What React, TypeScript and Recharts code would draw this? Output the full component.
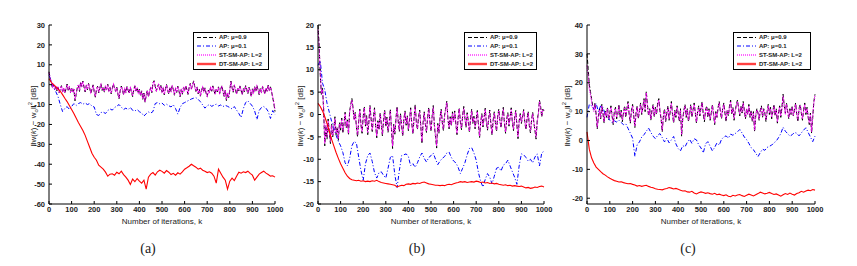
import React from 'react';
import { LineChart, Line, XAxis, YAxis } from 'recharts';

// AP(0.9) and ST-SM-AP are read every 5 iterations, AP(0.1) and DT-SM-AP every 10
const FINE_STEP = 5;
const COARSE_STEP = 10;
const X_TICKS = [0, 100, 200, 300, 400, 500, 600, 700, 800, 900, 1000];

const SANS = '"Liberation Sans", Arial, sans-serif';
const SERIF = '"Liberation Serif", "Times New Roman", serif';

// ---------- panel (a) ----------
const A_AP09 = [
  6.5, 3.2, 1.0, -1.5, 0.2, -2.4, -0.8, -3.1, -1.2, -4.0,
  -2.1, -0.5, -3.6, -1.9, -4.4, -2.0, 0.3, -2.8, -1.0, -3.9,
  -1.5, -4.2, -2.3, -8.1, -5.0, -1.6, -0.2, -3.4, 1.4, -0.9,
  1.8, -1.3, -3.7, -0.4, -2.6, 0.6, -1.8, -4.3, -2.2, -0.1,
  -3.5, -6.3, -2.4, -0.8, -4.1, -1.7, 0.4, -2.9, -1.1, -3.8,
  -0.6, -2.5, 0.2, -3.3, -1.4, -4.6, -2.0, 0.5, -1.9, -3.4,
  -1.2, -4.8, -7.1, -3.0, -0.7, -2.6, -5.2, -1.8, -3.9, -0.9,
  -2.7, -4.5, -1.3, -3.6, -6.0, -2.4, -0.6, -3.2, -1.5, -4.4,
  -2.2, -5.6, -3.1, -7.4, -4.2, -8.9, -5.5, -2.8, -6.2, -3.5,
  -1.4, -4.0, 0.8, 2.0, -0.9, -3.3, -1.1, 0.3, -2.6, -0.4,
  -3.8, -1.6, -5.1, -2.3, 0.1, -2.9, -4.7, -1.2, -3.5, -0.5,
  -2.4, -5.3, -1.7, -3.9, -0.8, -3.0, -6.1, -2.5, -4.8, -1.4,
  -3.2, -0.3, -2.7, -4.9, -1.5, 0.6, -2.1, -0.2, 1.9, -1.0,
  -3.4, -1.3, -4.6, -2.2, -5.8, -3.1, -0.9, -3.7, -1.6, -4.3,
  -6.0, -2.8, -4.1, -1.2, -3.3, -0.6, -2.9, -5.0, -2.0, -3.6,
  -1.1, -4.5, -2.3, -0.4, -3.7, -5.9, -2.6, -8.0, -4.4, -6.5,
  -2.7, 1.8, -1.4, -3.8, -0.3, -2.5, -4.9, -1.6, -3.2, -0.7,
  -2.8, -5.2, -1.9, -3.5, -0.5, -2.4, -4.6, -1.3, -3.0, -6.2,
  -2.1, -4.3, -1.0, -3.6, -0.4, -2.7, -5.1, -1.8, -3.9, -0.9,
  -2.6, -4.8, -1.5, -3.3, -0.2, -2.9, -1.1, -3.7, -6.5, -9.5,
  -13.5,
];
const A_STSM = [
  6.0, 3.5, 1.4, -1.0, 0.5, -2.0, -1.1, -2.8, -0.9, -3.6,
  -2.4, -0.8, -3.2, -1.6, -4.0, -2.3, 0.0, -2.5, -1.3, -3.5,
  -1.8, -3.9, -2.0, -7.6, -4.6, -1.9, 0.1, -3.0, 1.1, -0.6,
  1.5, -1.0, -3.4, -0.7, -2.3, 0.3, -1.5, -4.0, -2.5, -0.4,
  -3.2, -5.9, -2.7, -1.1, -3.8, -1.4, 0.1, -2.6, -1.4, -3.5,
  -0.9, -2.2, -0.1, -3.0, -1.7, -4.3, -2.3, 0.2, -1.6, -3.1,
  -1.5, -4.5, -6.7, -3.3, -1.0, -2.3, -4.9, -2.1, -3.6, -1.2,
  -2.4, -4.2, -1.6, -3.3, -5.6, -2.7, -0.9, -2.9, -1.8, -4.1,
  -2.5, -5.3, -3.4, -7.0, -4.5, -8.5, -5.2, -3.1, -5.9, -3.2,
  -1.7, -3.7, 0.5, 1.7, -1.2, -3.0, -1.4, 0.0, -2.3, -0.7,
  -3.5, -1.9, -4.8, -2.6, -0.2, -2.6, -4.4, -1.5, -3.2, -0.8,
  -2.1, -5.0, -2.0, -3.6, -1.1, -2.7, -5.8, -2.8, -4.5, -1.7,
  -2.9, -0.6, -2.4, -4.6, -1.8, 0.3, -2.4, -0.5, 1.6, -1.3,
  -3.1, -1.6, -4.3, -2.5, -5.5, -2.8, -1.2, -3.4, -1.9, -4.0,
  -5.7, -3.1, -3.8, -1.5, -3.0, -0.9, -2.6, -4.7, -2.3, -3.3,
  -1.4, -4.2, -2.6, -0.7, -3.4, -5.6, -2.9, -7.6, -4.1, -6.2,
  -3.0, 1.5, -1.7, -3.5, -0.6, -2.2, -4.6, -1.9, -2.9, -1.0,
  -2.5, -4.9, -2.2, -3.2, -0.8, -2.1, -4.3, -1.6, -2.7, -5.9,
  -2.4, -4.0, -1.3, -3.3, -0.7, -2.4, -4.8, -2.1, -3.6, -1.2,
  -2.3, -4.5, -1.8, -3.0, -0.5, -2.6, -1.4, -3.4, -6.2, -9.0,
  -12.5,
];
const A_AP01 = [
  5.0, 1.5, -1.5, -3.5, -6.0, -10.0, -13.5, -12.0, -11.0, -12.5,
  -11.0, -9.5, -10.5, -9.5, -9.0, -9.8, -9.2, -10.0, -9.5, -10.8,
  -11.2, -15.0, -15.5, -14.0, -13.8, -14.5, -13.0, -12.2, -12.8, -11.5,
  -10.8, -10.0, -11.3, -12.5, -11.8, -12.6, -11.4, -12.9, -13.2, -12.5,
  -13.6, -14.2, -15.8, -14.6, -13.7, -14.3, -13.5, -9.5, -9.0, -9.6,
  -9.2, -10.4, -9.8, -10.6, -11.2, -10.1, -12.0, -14.8, -11.5, -9.6,
  -9.0, -8.4, -7.8, -7.2, -6.8, -6.5, -7.4, -8.6, -10.2, -11.8,
  -10.6, -10.0, -10.9, -10.3, -9.8, -10.7, -10.2, -11.0, -10.4, -10.9,
  -11.5, -12.2, -11.0, -12.8, -14.5, -16.5, -12.0, -9.0, -8.2, -9.4,
  -10.8, -13.2, -17.5, -13.0, -11.5, -11.0, -11.8, -13.5, -17.0, -13.0,
  -15.0,
];
const A_DTSM = [
  3.0, 1.2, 0.0, -1.0, -2.2, -3.3, -5.0, -6.8, -8.5, -10.5,
  -12.5, -14.5, -16.8, -19.0, -21.0, -23.0, -25.5, -28.5, -31.5, -34.5,
  -36.5, -38.0, -40.5, -41.5, -42.5, -44.0, -46.0, -45.0, -44.8, -45.5,
  -44.0, -44.8, -43.5, -45.2, -46.5, -48.0, -50.2, -47.5, -48.8, -47.2,
  -48.5, -49.5, -48.0, -52.5, -46.5, -45.0, -44.2, -45.5, -43.8, -43.0,
  -43.6, -44.5, -43.2, -44.0, -45.2, -44.6, -45.5, -44.3, -45.0, -43.8,
  -42.5, -41.8, -41.0, -40.0, -40.8, -41.5, -42.5, -42.0, -43.0, -43.5,
  -44.2, -43.8, -44.5, -46.0, -49.5, -42.5, -44.5, -46.5, -48.0, -52.5,
  -48.5, -47.0, -48.2, -46.0, -44.0, -44.5, -43.8, -44.2, -43.5, -44.6,
  -45.5, -48.0, -46.5, -45.0, -44.2, -43.5, -44.5, -45.2, -46.0, -45.8,
  -46.5,
];

// ---------- panel (b) ----------
const B_AP09 = [
  20.0, 15.5, 9.0, 4.5, 6.0, 1.0, -7.0, -2.5, -5.5, -1.0,
  -4.0, -6.5, -2.0, -5.0, -3.2, -0.5, -4.5, -2.8, -5.8, -1.8,
  -3.5, -0.8, -4.2, -2.0, 0.5, -3.0, -1.2, -4.6, 0.8, 2.2,
  3.6, 1.5, -1.0, 0.5, -2.8, -5.0, -1.5, 1.2, -2.2, -4.2,
  -0.5, 1.8, -2.6, -0.2, -4.5, -1.8, 2.0, -1.0, -3.8, -0.8,
  1.5, -2.5, -5.2, -1.4, -3.5, 0.4, -2.0, -4.8, -1.2, 1.0,
  -2.8, -0.6, -4.0, -1.8, 1.2, -3.2, -7.6, -2.2, -4.4, -0.9,
  1.8, -1.5, -3.8, 0.2, -2.6, -4.9, -1.0, 0.8, -2.4, -0.3,
  -3.6, -1.2, 1.5, -2.0, -4.4, -0.8, 2.2, -1.6, -3.4, -0.5,
  1.0, -2.8, -6.5, -1.8, 0.6, -2.2, -4.0, -0.7, 1.6, -1.5,
  -3.8, -0.4, 2.0, -2.5, -5.0, -7.5, -2.0, -4.2, -0.6, 1.2,
  -1.8, -3.6, -0.2, 1.4, 3.0, -1.0, -3.2, -0.5, -2.6, 0.6,
  -1.4, 0.8, -2.2, -4.5, -0.8, 1.5, -1.6, -3.4, -0.2, 1.8,
  -0.8, -2.9, 0.4, -1.5, -4.0, -1.0, 1.2, -2.0, -0.4, -3.2,
  -1.1, 0.9, -2.4, -5.2, -1.6, 0.2, -2.8, -0.6, 1.4, -1.8,
  -3.5, -0.9, 1.0, -2.2, -4.6, -1.3, 0.6, -1.9, -3.8, -0.4,
  1.2, -1.4, -3.0, -0.2, 1.6, -2.1, -4.2, -1.0, 0.4, -2.6,
  -0.6, 1.5, -1.8, -3.6, -0.8, 0.9, -2.3, -5.4, -1.5, 0.2,
  -2.0, -0.4, 1.1, -1.7, -3.4, -0.9, 0.7, -2.5, -4.1, -1.2,
  0.5, -1.8, -3.6, -5.5, -1.4, 0.3, 3.2, 1.8, -0.6, 1.2,
  0.8,
];
const B_STSM = [
  19.0, 15.0, 9.5, 5.0, 5.5, 1.5, -6.5, -2.0, -5.0, -1.4,
  -3.6, -6.0, -2.4, -4.6, -3.5, -0.9, -4.1, -3.1, -5.4, -2.1,
  -3.1, -1.1, -3.8, -2.3, 0.2, -2.7, -1.5, -4.2, 0.5, 1.9,
  3.2, 1.2, -1.3, 0.2, -2.5, -4.6, -1.8, 0.9, -2.5, -3.9,
  -0.8, 1.5, -2.3, -0.5, -4.1, -2.1, 1.7, -1.3, -3.5, -1.1,
  1.2, -2.2, -4.8, -1.7, -3.2, 0.1, -2.3, -4.4, -1.5, 0.7,
  -2.5, -0.9, -3.7, -2.1, 0.9, -2.9, -7.1, -2.5, -4.1, -1.2,
  1.5, -1.8, -3.5, -0.1, -2.3, -4.5, -1.3, 0.5, -2.1, -0.6,
  -3.3, -1.5, 1.2, -2.3, -4.1, -1.1, 1.9, -1.9, -3.1, -0.8,
  0.7, -2.5, -6.0, -2.1, 0.3, -1.9, -3.7, -1.0, 1.3, -1.8,
  -3.5, -0.7, 1.7, -2.2, -4.6, -7.0, -2.3, -3.9, -0.9, 0.9,
  -2.1, -3.3, -0.5, 1.1, 2.7, -1.3, -2.9, -0.8, -2.3, 0.3,
  -1.7, 0.5, -1.9, -4.2, -1.1, 1.2, -1.9, -3.1, -0.5, 1.5,
  -1.1, -2.6, 0.1, -1.8, -3.7, -1.3, 0.9, -1.7, -0.7, -2.9,
  -1.4, 0.6, -2.1, -4.8, -1.9, -0.1, -2.5, -0.9, 1.1, -1.5,
  -3.2, -1.2, 0.7, -1.9, -4.3, -1.6, 0.3, -1.6, -3.5, -0.7,
  0.9, -1.7, -2.7, -0.5, 1.3, -1.8, -3.9, -1.3, 0.1, -2.3,
  -0.9, 1.2, -1.5, -3.3, -1.1, 0.6, -2.0, -5.0, -1.8, -0.1,
  -1.7, -0.7, 0.8, -1.4, -3.1, -1.2, 0.4, -2.2, -3.8, -1.5,
  0.2, -1.5, -3.3, -5.1, -1.7, 0.0, 2.9, 1.5, -0.3, 0.9,
  1.1,
];
const B_AP01 = [
  11.0, 12.0, 7.0, 5.5, 2.5, 0.5, -1.5, -3.0, -4.6, -6.0,
  -7.0, -8.5, -10.8, -11.5, -9.8, -7.0, -6.0, -6.4, -9.5, -12.5,
  -14.7, -11.0, -9.2, -8.6, -10.5, -13.0, -14.2, -13.0, -12.8, -13.6,
  -14.2, -12.0, -9.6, -9.2, -13.5, -16.3, -12.5, -9.2, -9.0, -8.8,
  -9.4, -11.5, -11.0, -11.8, -10.8, -9.5, -8.6, -9.8, -10.6, -9.6,
  -9.2, -8.6, -10.0, -11.2, -10.4, -9.8, -9.4, -8.6, -8.4, -9.6,
  -10.4, -10.8, -11.8, -13.2, -12.0, -10.8, -9.0, -7.6, -7.4, -8.6,
  -10.2, -13.0, -15.0, -16.2, -14.5, -13.2, -14.0, -15.5, -13.8, -12.0,
  -11.8, -12.6, -11.3, -11.0, -10.2, -11.5, -12.8, -14.0, -15.6, -11.5,
  -8.8, -9.0, -9.6, -10.4, -10.0, -10.8, -9.5, -8.8, -11.5, -8.6,
  -8.2,
];
const B_DTSM = [
  2.5, 1.8, 0.8, -0.5, -2.0, -3.8, -5.5, -7.0, -8.5, -9.8,
  -11.0, -12.0, -13.0, -13.8, -14.3, -14.6, -14.7, -14.8, -14.7, -14.9,
  -14.8, -15.0, -14.9, -15.0, -14.8, -14.9, -14.7, -15.0, -15.2, -15.3,
  -15.4, -15.5, -15.6, -15.7, -15.8, -16.2, -16.0, -15.8, -15.9, -15.6,
  -15.5, -15.6, -15.4, -15.5, -15.3, -15.4, -15.2, -15.1, -15.3, -15.5,
  -15.6, -15.7, -15.8, -15.8, -15.9, -15.8, -15.9, -15.7, -15.6, -15.7,
  -15.5, -15.3, -15.2, -15.0, -15.1, -15.0, -15.2, -15.1, -15.0, -15.1,
  -14.9, -15.0, -15.2, -15.1, -15.3, -15.2, -15.4, -15.3, -15.5, -15.4,
  -15.6, -15.7, -15.8, -15.7, -15.9, -15.8, -16.0, -15.9, -16.0, -16.1,
  -16.0, -16.2, -16.4, -16.3, -16.5, -16.4, -16.2, -16.3, -16.1, -16.0,
  -16.2,
];

// ---------- panel (c) ----------
const C_AP09 = [
  30.0, 25.0, 19.5, 17.0, 14.5, 12.0, 10.5, 13.0, 9.0, 4.0,
  8.5, 11.0, 7.5, 12.5, 9.5, 6.0, 10.5, 8.0, 11.5, 7.0,
  9.5, 12.0, 8.5, 5.5, 10.0, 11.5, 7.5, 9.0, 12.5, 8.0,
  10.5, 6.5, 9.5, 12.0, 8.0, 11.0, 13.5, 9.0, 6.0, 10.5,
  12.5, 8.5, 4.5, 9.5, 12.0, 7.5, 10.0, 13.0, 9.0, 11.5,
  14.5, 10.0, 17.0, 12.5, 8.5, 11.0, 7.0, 10.5, 12.5, 8.0,
  11.5, 9.0, 13.0, 14.5, 10.0, 7.5, 3.0, 8.5, 11.0, 6.5,
  9.5, 12.0, 7.0, 10.0, 13.5, 9.0, 6.0, 10.5, 8.0, 12.0,
  9.5, 6.5, 11.0, 1.5, 7.5, 10.5, 12.5, 8.0, 11.0, 6.5,
  9.0, 12.5, 8.0, 10.5, 13.0, 9.5, 6.0, 10.0, 12.0, 8.5,
  11.5, 13.5, 9.0, 6.5, 10.5, 12.0, 8.0, 11.0, 7.0, 9.5,
  12.5, 9.0, 5.5, 10.0, 8.0, 11.5, 13.5, 10.0, 7.5, 11.0,
  13.0, 9.5, 6.5, 10.5, 8.5, 12.0, 14.0, 9.0, 11.5, 7.0,
  10.0, 12.5, 14.0, 11.0, 8.5, 12.0, 9.5, 13.5, 10.5, 7.5,
  11.0, 9.0, 12.5, 8.0, 10.5, 6.5, 10.0, 3.0, 8.5, 11.0,
  9.5, 7.0, 10.5, 12.0, 8.0, 11.0, 9.5, 6.5, 10.0, 12.5,
  9.0, 11.5, 7.5, 10.0, 12.5, 8.5, 11.0, 6.0, 9.5, 12.0,
  8.0, 11.5, 16.0, 12.0, 9.5, 13.0, 10.0, 7.5, 11.0, 9.0,
  12.0, 8.5, 10.5, 13.0, 9.0, 6.5, 11.0, 12.5, 9.5, 7.0,
  10.5, 13.0, 9.0, 11.5, 8.0, 5.5, 9.5, 2.5, 8.0, 13.5,
  16.0,
];
const C_STSM = [
  26.0, 22.0, 18.0, 16.0, 13.5, 11.5, 10.0, 12.5, 9.5, 4.5,
  8.0, 10.5, 8.0, 12.0, 9.0, 6.5, 10.0, 8.5, 11.0, 7.5,
  9.0, 11.5, 9.0, 6.0, 9.5, 11.0, 8.0, 9.5, 12.0, 8.5,
  10.0, 7.0, 9.0, 11.5, 8.5, 10.5, 13.0, 9.5, 6.5, 10.0,
  12.0, 9.0, 5.0, 9.0, 11.5, 8.0, 10.5, 12.5, 9.5, 11.0,
  14.0, 10.5, 16.5, 12.0, 9.0, 10.5, 7.5, 10.0, 12.0, 8.5,
  11.0, 9.5, 12.5, 14.0, 10.5, 8.0, 3.5, 8.0, 10.5, 7.0,
  9.0, 11.5, 7.5, 10.5, 13.0, 9.5, 6.5, 10.0, 8.5, 11.5,
  10.0, 7.0, 10.5, 2.0, 8.0, 10.0, 12.0, 8.5, 10.5, 7.0,
  9.5, 12.0, 8.5, 10.0, 12.5, 10.0, 6.5, 9.5, 11.5, 9.0,
  11.0, 13.0, 9.5, 7.0, 10.0, 11.5, 8.5, 10.5, 7.5, 9.0,
  12.0, 9.5, 6.0, 9.5, 8.5, 11.0, 13.0, 10.5, 8.0, 10.5,
  12.5, 10.0, 7.0, 10.0, 9.0, 11.5, 13.5, 9.5, 11.0, 7.5,
  10.5, 12.0, 13.5, 11.5, 9.0, 11.5, 10.0, 13.0, 10.0, 8.0,
  10.5, 9.5, 12.0, 8.5, 10.0, 7.0, 9.5, 3.5, 9.0, 10.5,
  10.0, 7.5, 10.0, 11.5, 8.5, 10.5, 10.0, 7.0, 9.5, 12.0,
  9.5, 11.0, 8.0, 9.5, 12.0, 9.0, 10.5, 6.5, 10.0, 11.5,
  8.5, 11.0, 15.5, 12.5, 9.0, 12.5, 10.5, 8.0, 10.5, 9.5,
  11.5, 9.0, 10.0, 12.5, 9.5, 7.0, 10.5, 12.0, 10.0, 7.5,
  10.0, 12.5, 9.5, 11.0, 8.5, 6.0, 9.0, 3.0, 8.5, 13.0,
  15.5,
];
const C_AP01 = [
  8.0, 12.5, 12.0, 11.0, 12.8, 10.0, 12.0, 11.5, 9.0, 8.2,
  7.0, 6.2, 6.8, 6.4, 7.0, 6.2, 5.5, 5.8, 4.2, 2.5,
  0.8, -5.5, -1.5, -0.5, 1.2, 2.0, 3.2, 4.3, 2.8, 1.5,
  0.6, 1.8, 2.4, 1.0, -0.5, 0.8, -0.8, 0.2, 1.4, -1.2,
  -2.8, -3.6, -1.8, -2.2, -0.6, 0.4, -1.0, 0.6, 0.2, -1.5,
  -2.6, -4.3, -1.2, -0.4, -2.0, -3.6, -2.4, -0.8, -1.6, 0.4,
  1.2, 1.6, 0.8, 2.2, 1.8, 2.4, 3.0, 3.8, 2.6, 1.2,
  0.3, -1.0, -2.5, -3.2, -4.4, -5.6, -4.2, -3.0, -3.4, -2.4,
  -2.0, -1.6, -0.8, -0.2, 1.0, 2.4, 4.6, 3.2, 2.4, 1.5,
  2.0, 2.8, 2.5, 1.6, 2.6, 3.6, 4.4, 2.8, 1.2, -0.4,
  1.5,
];
const C_DTSM = [
  3.0, -3.0, -6.0, -7.8, -9.2, -10.0, -10.8, -11.5, -12.0, -12.6,
  -13.1, -13.5, -13.9, -14.1, -14.4, -14.3, -14.6, -14.8, -15.0, -14.9,
  -15.2, -15.4, -15.8, -15.6, -15.9, -15.7, -15.5, -15.9, -16.2, -16.4,
  -16.7, -16.9, -17.0, -17.1, -16.8, -16.6, -16.3, -16.5, -16.8, -16.6,
  -16.9, -17.2, -17.5, -17.4, -17.8, -17.9, -17.6, -18.2, -18.5, -18.1,
  -17.8, -18.0, -18.3, -18.1, -18.4, -18.6, -18.3, -18.8, -18.6, -18.9,
  -19.1, -18.8, -19.3, -19.5, -19.0, -19.2, -18.9, -18.7, -19.1, -19.4,
  -19.0, -18.6, -18.9, -19.2, -18.8, -18.4, -17.9, -18.2, -18.5, -18.3,
  -18.0, -18.4, -18.7, -18.5, -18.9, -19.3, -18.8, -18.4, -18.7, -18.2,
  -18.6, -18.9, -18.4, -18.1, -17.6, -17.9, -17.5, -17.2, -17.4, -17.0,
  -17.2,
];

const A_TICKS = [-60, -50, -40, -30, -20, -10, 0, 10, 20, 30];
const B_TICKS = [-20, -15, -10, -5, 0, 5, 10, 15, 20];
const C_TICKS = [-20, -10, 0, 10, 20, 30, 40];

const LEGEND = [
  { name: 'AP: \u03bc=0.9', color: '#000000', dash: '4 2', width: 1 },
  { name: 'AP: \u03bc=0.1', color: '#0000ff', dash: '4 2 1 2', width: 1 },
  { name: 'ST-SM-AP: L=2', color: '#ff33ff', dash: '1 1', width: 1.6 },
  { name: 'DT-SM-AP: L=2', color: '#ff4040', dash: undefined, width: 2.4 },
];

function buildRows(ap09: number[], stsm: number[], ap01: number[], dtsm: number[]) {
  const ratio = COARSE_STEP / FINE_STEP;
  return ap09.map((v, i) => ({
    k: i * FINE_STEP,
    ap09: v,
    stsm: stsm[i],
    ap01: i % ratio === 0 ? ap01[i / ratio] : null,
    dtsm: i % ratio === 0 ? dtsm[i / ratio] : null,
  }));
}

const tickStyle = { fontSize: 7.5, fontWeight: 700, fill: '#222', fontFamily: SANS };

function Panel({ left, width, margin, rows, domain, ticks }: any) {
  return (
    <div style={{ position: 'absolute', left, top: 0 }}>
      <LineChart width={width} height={266} data={rows} margin={margin}>
        <XAxis
          type="number"
          dataKey="k"
          domain={[0, 1000]}
          ticks={X_TICKS}
          interval={0}
          height={20}
          tickSize={-3}
          tickMargin={6}
          axisLine={{ stroke: '#000' }}
          tickLine={{ stroke: '#000' }}
          tick={tickStyle}
        />
        <YAxis
          type="number"
          domain={domain}
          ticks={ticks}
          interval={0}
          width={30}
          tickSize={-3}
          tickMargin={7}
          allowDataOverflow
          axisLine={{ stroke: '#000' }}
          tickLine={{ stroke: '#000' }}
          tick={tickStyle}
        />
        <Line type="linear" dataKey="ap09" stroke="#000" strokeWidth={1} strokeDasharray="4 2" dot={false} isAnimationActive={false} />
        <Line type="linear" dataKey="ap01" stroke="#0000ff" strokeWidth={1} strokeDasharray="4 2 1 2" dot={false} connectNulls isAnimationActive={false} />
        <Line type="linear" dataKey="stsm" stroke="#ff00ff" strokeWidth={1.1} strokeDasharray="1.2 1" dot={false} isAnimationActive={false} />
        <Line type="linear" dataKey="dtsm" stroke="#ff0000" strokeWidth={1.1} dot={false} connectNulls isAnimationActive={false} />
      </LineChart>
    </div>
  );
}

function LegendBox({ left, width }: { left: number; width: number }) {
  const rowsY = [4.5, 13, 22, 31];
  return (
    <div
      style={{
        position: 'absolute', left, top: 32, width, height: 38,
        border: '1px solid #000', background: '#fff', boxSizing: 'border-box',
      }}
    >
      <svg width={width - 2} height={36} style={{ display: 'block' }}>
        {LEGEND.map((it, i) => (
          <g key={it.name}>
            <line x1={3} x2={22} y1={rowsY[i]} y2={rowsY[i]} stroke={it.color}
              strokeWidth={it.width} strokeDasharray={it.dash} />
            <text x={25} y={rowsY[i]} dominantBaseline="middle" fontSize={6}
              fontWeight={700} fontFamily={SANS} fill="#222">{it.name}</text>
          </g>
        ))}
      </svg>
    </div>
  );
}

function YLabel({ x }: { x: number }) {
  return (
    <div
      style={{
        position: 'absolute', left: x, top: 116, transform: 'translate(-50%, -50%) rotate(-90deg)',
        fontSize: 8, lineHeight: 1, whiteSpace: 'nowrap', fontFamily: SANS, color: '#222',
      }}
    >
      <b>{'\u2016'}</b>w(<i>k</i>) {'\u2212'} w<sub style={{ fontSize: 6 }}>o</sub><b>{'\u2016'}</b>
      <sup style={{ fontSize: 6 }}>2</sup> [dB]
    </div>
  );
}

function XLabel({ cx }: { cx: number }) {
  return (
    <div style={{ position: 'absolute', left: cx - 60, top: 216, width: 120, textAlign: 'center',
      fontSize: 8, lineHeight: '12px', fontFamily: SANS, color: '#222' }}>
      Number of iterations, k
    </div>
  );
}

function Caption({ cx, text }: { cx: number; text: string }) {
  return (
    <div style={{ position: 'absolute', left: cx - 20, top: 240, width: 40, textAlign: 'center',
      fontSize: 14, lineHeight: '18px', fontFamily: SERIF, color: '#222' }}>
      {text}
    </div>
  );
}

export default function App() {
  const rowsA = buildRows(A_AP09, A_STSM, A_AP01, A_DTSM);
  const rowsB = buildRows(B_AP09, B_STSM, B_AP01, B_DTSM);
  const rowsC = buildRows(C_AP09, C_STSM, C_AP01, C_DTSM);
  return (
    <div style={{ position: 'absolute', left: 0, top: 0, width: 857, height: 266, background: '#fff', overflow: 'hidden' }}>
      <Panel left={0} width={290} rows={rowsA} domain={[-60, 30]} ticks={A_TICKS}
        margin={{ top: 25, right: 15, bottom: 42, left: 19 }} />
      <Panel left={285} width={290} rows={rowsB} domain={[-20, 20]} ticks={B_TICKS}
        margin={{ top: 25, right: 31, bottom: 42, left: 3 }} />
      <Panel left={555} width={302} rows={rowsC} domain={[-22, 40]} ticks={C_TICKS}
        margin={{ top: 25, right: 42, bottom: 42, left: 2 }} />

      <YLabel x={33} />
      <YLabel x={300} />
      <YLabel x={567} />

      <XLabel cx={162} />
      <XLabel cx={431} />
      <XLabel cx={701} />

      <LegendBox left={193} width={76} />
      <LegendBox left={464} width={73} />
      <LegendBox left={733} width={78} />

      <Caption cx={148} text="(a)" />
      <Caption cx={417} text="(b)" />
      <Caption cx={688} text="(c)" />
    </div>
  );
}
